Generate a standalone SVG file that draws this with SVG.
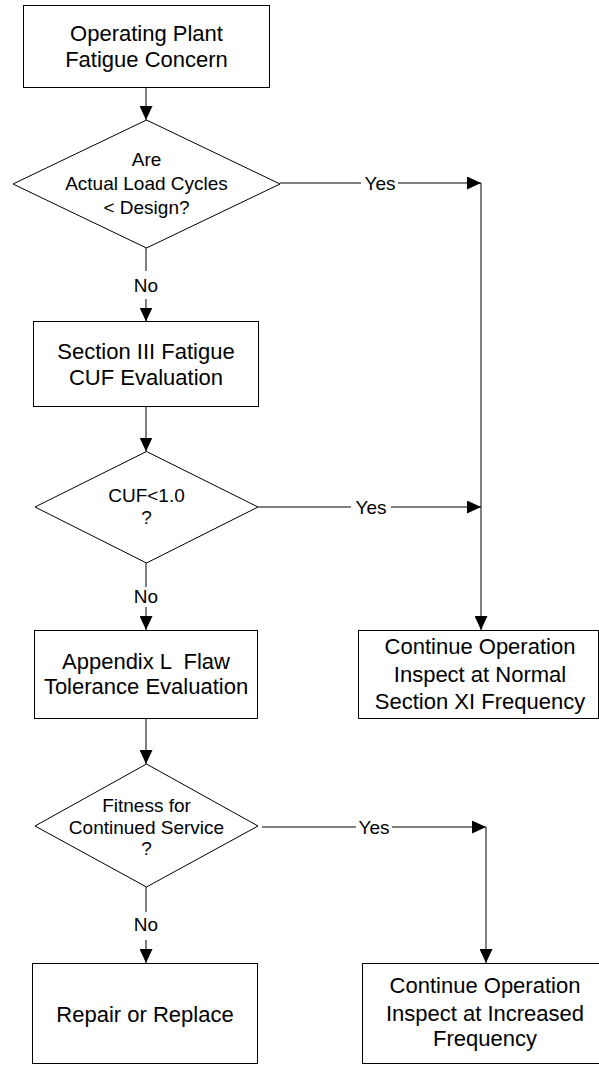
<svg xmlns="http://www.w3.org/2000/svg" width="599" height="1065" viewBox="0 0 599 1065">
<defs>
<style>
.box{fill:#fff;stroke:#000;stroke-width:1}
.dia{fill:#fff;stroke:#000;stroke-width:1}
.t{font-family:"Liberation Sans",Arial,sans-serif;font-size:22px;fill:#000;text-anchor:middle}
.d{font-family:"Liberation Sans",Arial,sans-serif;font-size:19px;fill:#000;text-anchor:middle}
.l{font-family:"Liberation Sans",Arial,sans-serif;font-size:19px;fill:#000;text-anchor:middle}
.c{fill:none;stroke:#000;stroke-width:1}
</style>
<marker id="arr" markerUnits="userSpaceOnUse" markerWidth="14" markerHeight="13" refX="14" refY="6.5" orient="auto">
<path d="M0,0 L14,6.5 L0,13 Z" fill="#000"/>
</marker>
</defs>
<rect width="599" height="1065" fill="#fff"/>
<g id="connectors">
<path class="c" d="M146,87 V120" marker-end="url(#arr)"/>
<path class="c" d="M146,248 V271"/>
<path class="c" d="M146,299 V321.5" marker-end="url(#arr)"/>
<path class="c" d="M146,407 V451.5" marker-end="url(#arr)"/>
<path class="c" d="M146,563 V587"/>
<path class="c" d="M146,607 V630" marker-end="url(#arr)"/>
<path class="c" d="M146,719 V764" marker-end="url(#arr)"/>
<path class="c" d="M146,887 V912"/>
<path class="c" d="M146,940 V963" marker-end="url(#arr)"/>
<path class="c" d="M280,183 H361"/>
<path class="c" d="M398,183 H481" marker-end="url(#arr)"/>
<path class="c" d="M481,183 V630" marker-end="url(#arr)"/>
<path class="c" d="M258,507 H351"/>
<path class="c" d="M391,507 H481" marker-end="url(#arr)"/>
<path class="c" d="M262,827 H356"/>
<path class="c" d="M392,827 H486" marker-end="url(#arr)"/>
<path class="c" d="M486,827 V963" marker-end="url(#arr)"/>
<text class="l" x="380" y="190">Yes</text>
<text class="l" x="371" y="514">Yes</text>
<text class="l" x="374" y="833.5">Yes</text>
<text class="l" x="146" y="291.5">No</text>
<text class="l" x="146" y="603">No</text>
<text class="l" x="146" y="931">No</text>
</g>
<g id="start">
<rect class="box" x="23.5" y="5.5" width="246" height="82"/>
<text class="t" x="146.5" y="40.5">Operating Plant</text>
<text class="t" x="146.5" y="66.5">Fatigue Concern</text>
</g>
<g id="dec1">
<polygon class="dia" points="146.5,120 280,184 146.5,248 13,184"/>
<text class="d" x="146.5" y="166">Are</text>
<text class="d" x="146.5" y="190">Actual Load Cycles</text>
<text class="d" x="146.5" y="214">&lt; Design?</text>
</g>
<g id="sec3">
<rect class="box" x="33.5" y="321.5" width="225" height="85"/>
<text class="t" x="146" y="358.5">Section III Fatigue</text>
<text class="t" x="146" y="385">CUF Evaluation</text>
</g>
<g id="dec2">
<polygon class="dia" points="146.5,451.5 258,507 146.5,563 35,507"/>
<text class="d" x="146.5" y="502">CUF&lt;1.0</text>
<text class="d" x="146.5" y="524">?</text>
</g>
<g id="appl">
<rect class="box" x="34.5" y="630.5" width="223" height="88"/>
<text class="t" x="146" y="668.5" xml:space="preserve">Appendix L  Flaw</text>
<text class="t" x="146" y="694">Tolerance Evaluation</text>
</g>
<g id="dec3">
<polygon class="dia" points="146.5,764 258,826 146.5,887 35,826"/>
<text class="d" x="146.5" y="811.5">Fitness for</text>
<text class="d" x="146.5" y="833.5">Continued Service</text>
<text class="d" x="146.5" y="855">?</text>
</g>
<g id="normal">
<rect class="box" x="358.5" y="630.5" width="240" height="88"/>
<text class="t" x="480" y="654">Continue Operation</text>
<text class="t" x="480" y="681.5">Inspect at Normal</text>
<text class="t" x="480" y="708.5">Section XI Frequency</text>
</g>
<g id="repair">
<rect class="box" x="32.5" y="963.5" width="225" height="100"/>
<text class="t" x="145" y="1021.5">Repair or Replace</text>
</g>
<g id="increased">
<rect class="box" x="362.5" y="963.5" width="246" height="100"/>
<text class="t" x="485" y="993">Continue Operation</text>
<text class="t" x="485" y="1020.5">Inspect at Increased</text>
<text class="t" x="485" y="1046">Frequency</text>
</g>
</svg>
